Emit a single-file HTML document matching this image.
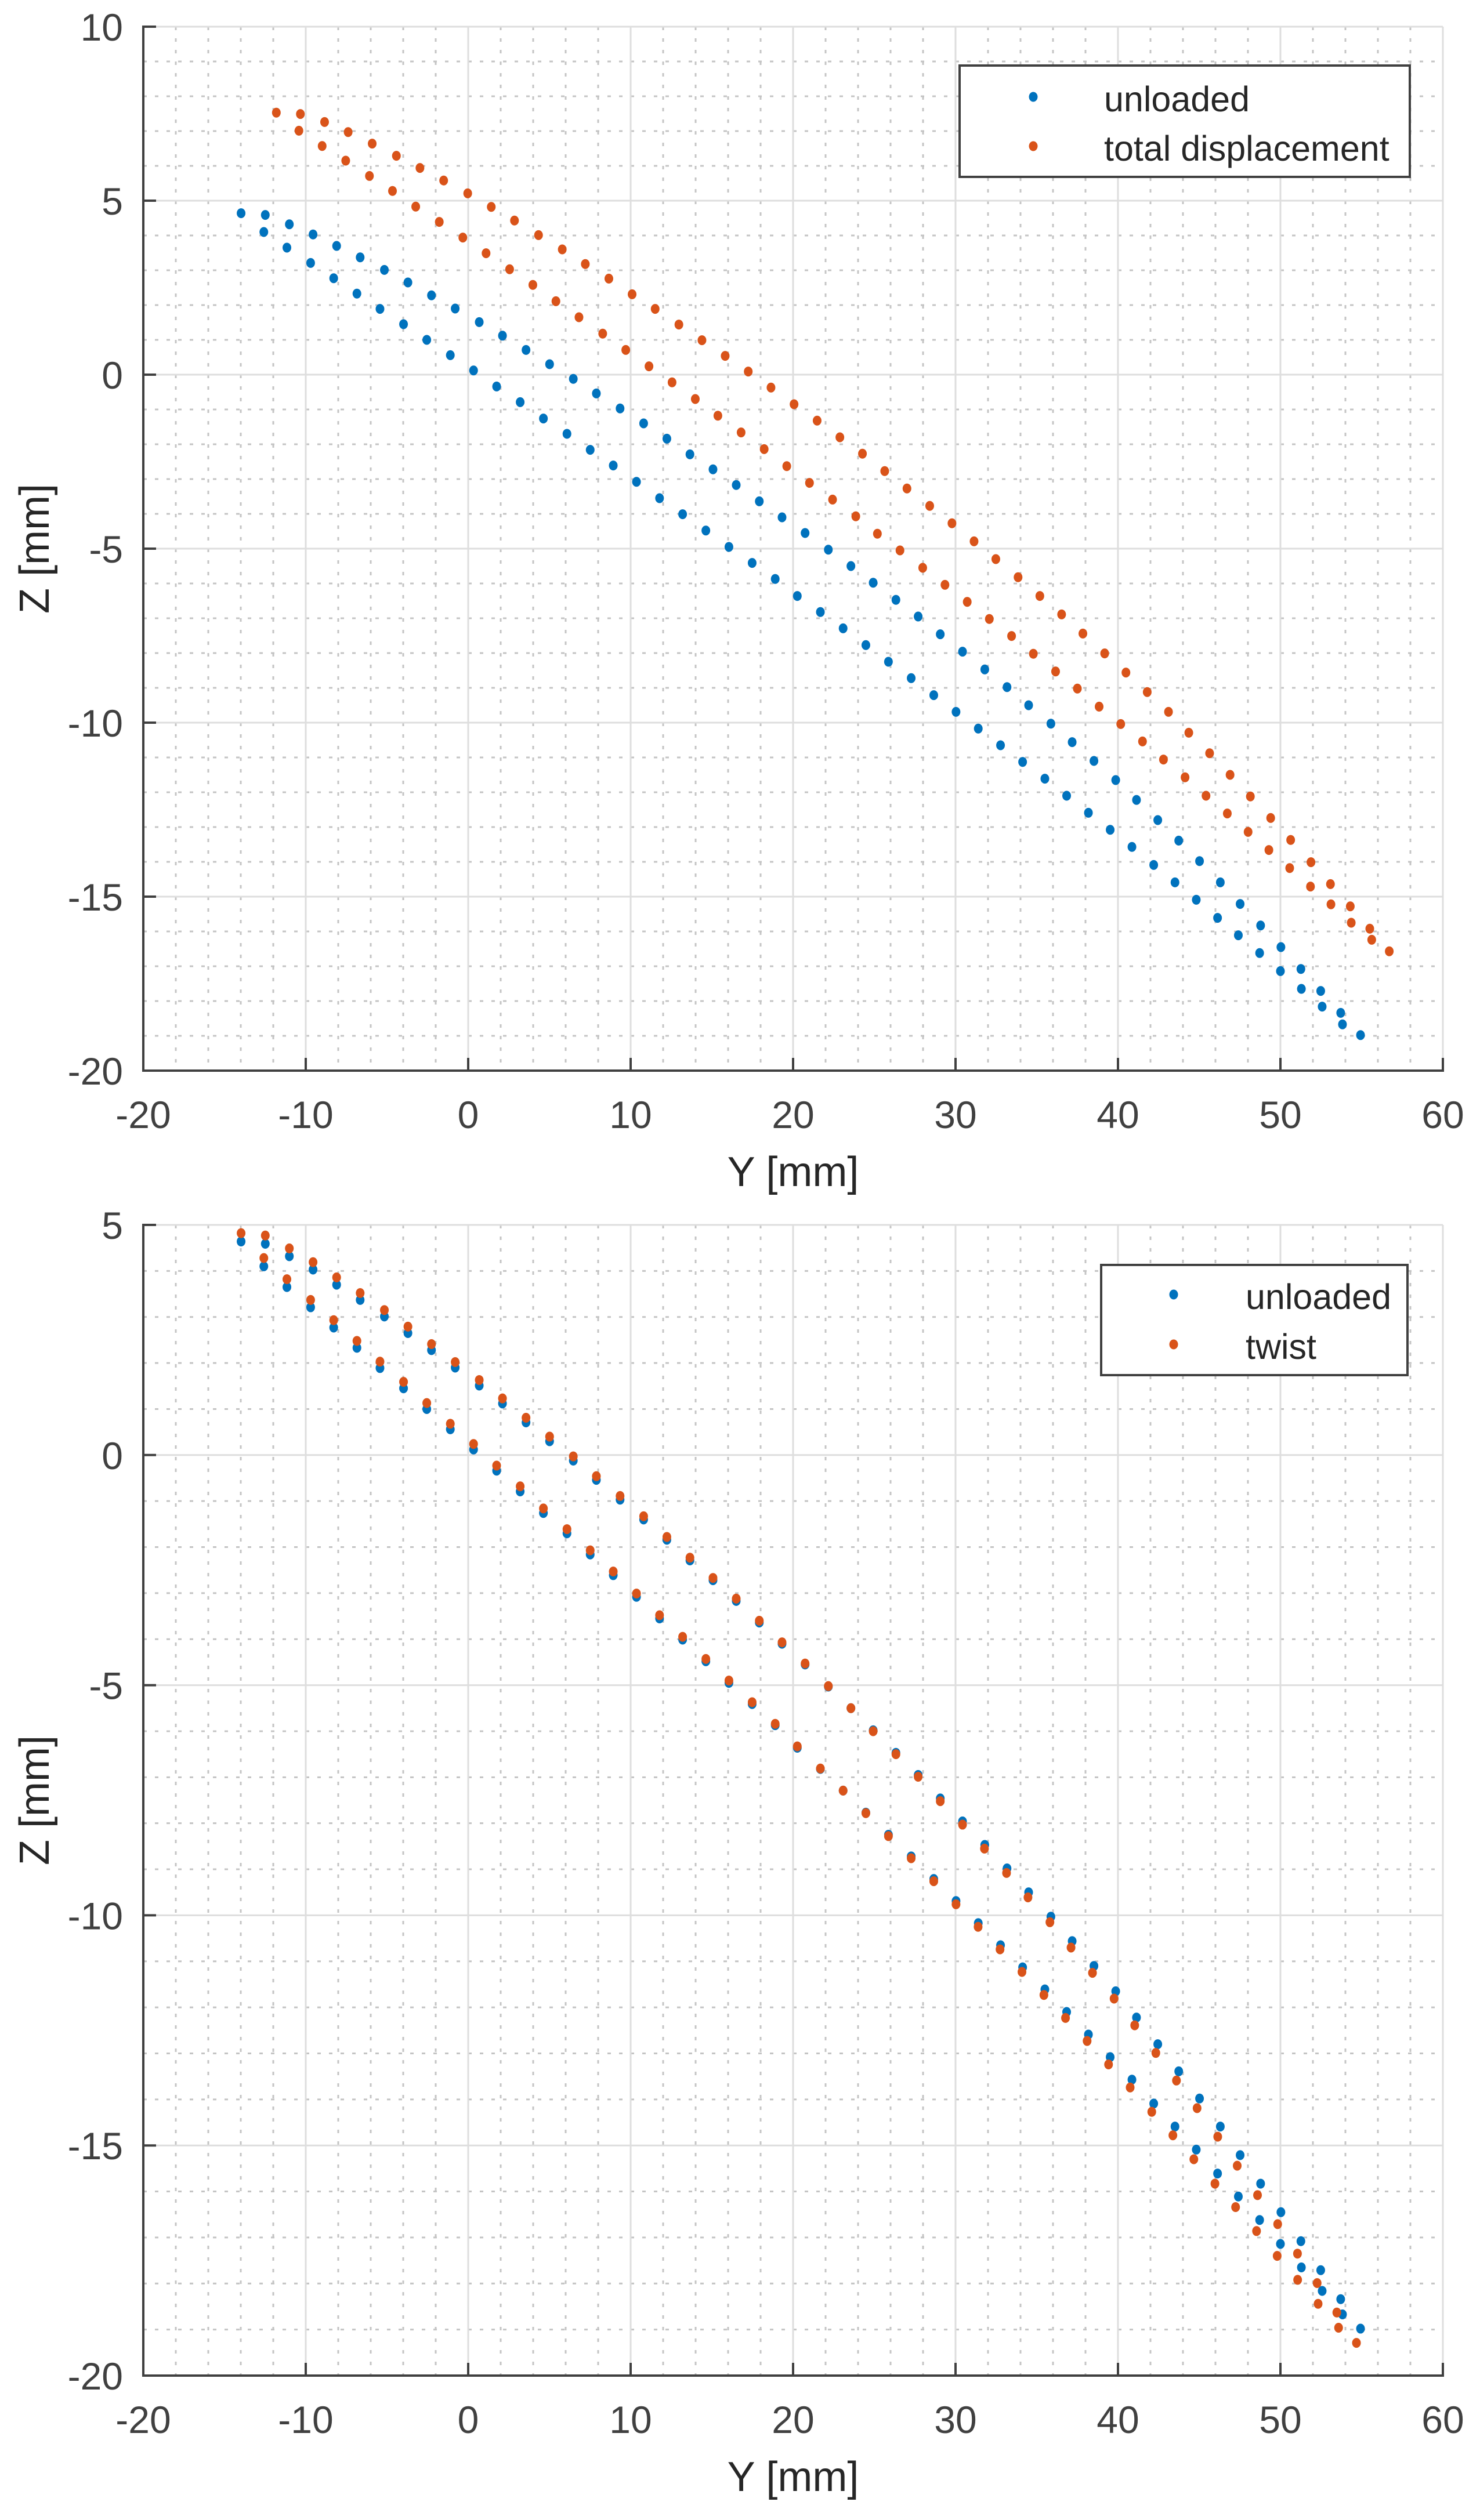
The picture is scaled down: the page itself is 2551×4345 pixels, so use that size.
<!DOCTYPE html>
<html>
<head>
<meta charset="utf-8">
<style>
  html,body{margin:0;padding:0;background:#fff;}
  svg{display:block;}
  text{font-family:"Liberation Sans",Arial,sans-serif;}
</style>
</head>
<body>
<svg id="fig" xmlns="http://www.w3.org/2000/svg" width="2551" height="4345" viewBox="0 0 2551 4345">
  <rect x="0" y="0" width="2551" height="4345" fill="#ffffff"/>
  <g id="top-plot"></g>
  <g id="bottom-plot"></g>
</svg>
<script>
// ---- data (Y [mm], Z [mm]) ----
const xTicks = [-20,-10,0,10,20,30,40,50,60];
const topYTicks = [-20,-15,-10,-5,0,5,10];
const bottomYTicks = [-20,-15,-10,-5,0,5];

const unloadedY = [-13.98,-12.49,-11.01,-9.55,-8.10,-6.65,-5.16,-3.71,-2.26,-0.80,0.68,2.11,3.56,5.01,6.47,7.89,9.35,10.80,12.23,13.65,15.07,16.50,17.92,19.32,20.74,22.17,23.56,24.93,26.33,27.70,29.06,30.43,31.80,33.17,34.50,35.87,37.18,38.52,39.86,41.14,42.45,43.74,45.02,46.30,47.52,48.78,50.03,51.26,52.48,53.71,54.93,
 -12.58,-11.16,-9.70,-8.28,-6.85,-5.43,-3.98,-2.55,-1.10,0.33,1.75,3.20,4.63,6.08,7.51,8.93,10.36,11.78,13.20,14.63,16.05,17.48,18.90,20.26,21.68,23.08,24.48,25.87,27.27,28.66,30.03,31.40,32.77,34.13,35.50,36.84,38.18,39.52,40.86,42.20,43.51,44.82,46.13,47.41,48.72,50.00,51.29,52.57,53.82];
const unloadedZ = [4.64,4.59,4.32,4.03,3.70,3.37,3.01,2.65,2.28,1.90,1.51,1.12,0.71,0.30,-0.12,-0.54,-0.97,-1.40,-1.84,-2.29,-2.72,-3.17,-3.64,-4.10,-4.55,-5.03,-5.50,-5.98,-6.47,-6.95,-7.46,-7.96,-8.47,-8.98,-9.50,-10.03,-10.56,-11.10,-11.65,-12.22,-12.80,-13.39,-13.98,-14.59,-15.21,-15.83,-16.45,-17.08,-17.71,-18.34,-18.98,
 4.10,3.65,3.21,2.77,2.33,1.89,1.45,1.00,0.56,0.12,-0.34,-0.79,-1.26,-1.70,-2.16,-2.61,-3.08,-3.55,-4.01,-4.48,-4.95,-5.41,-5.87,-6.36,-6.82,-7.29,-7.77,-8.25,-8.72,-9.21,-9.69,-10.17,-10.65,-11.13,-11.61,-12.10,-12.59,-13.08,-13.57,-14.09,-14.59,-15.09,-15.61,-16.11,-16.62,-17.14,-17.65,-18.16,-18.67];

const totalY = [-11.81,-10.33,-8.84,-7.39,-5.91,-4.42,-2.97,-1.51,-0.03,1.42,2.85,4.33,5.79,7.21,8.66,10.09,11.51,12.97,14.39,15.82,17.24,18.64,20.06,21.48,22.88,24.27,25.64,27.01,28.41,29.78,31.14,32.48,33.85,35.19,36.53,37.84,39.18,40.49,41.80,43.11,44.36,45.64,46.90,48.15,49.40,50.63,51.88,53.08,54.30,55.50,56.70,
 -10.42,-8.99,-7.54,-6.08,-4.66,-3.23,-1.78,-0.33,1.10,2.55,3.98,5.40,6.82,8.28,9.70,11.13,12.55,13.98,15.37,16.80,18.22,19.61,21.01,22.43,23.86,25.19,26.58,27.98,29.35,30.72,32.08,33.45,34.79,36.16,37.50,38.84,40.17,41.51,42.80,44.13,45.42,46.73,48.01,49.29,50.57,51.85,53.11,54.36,55.62];
const totalZ = [7.53,7.49,7.26,6.97,6.64,6.29,5.94,5.58,5.21,4.82,4.43,4.01,3.60,3.18,2.76,2.31,1.89,1.44,0.99,0.54,0.09,-0.37,-0.85,-1.32,-1.80,-2.27,-2.77,-3.27,-3.77,-4.27,-4.79,-5.30,-5.82,-6.36,-6.89,-7.44,-8.01,-8.56,-9.12,-9.69,-10.29,-10.88,-11.50,-12.12,-12.74,-13.37,-14.01,-14.64,-15.28,-15.92,-16.57,
 7.01,6.57,6.15,5.71,5.28,4.83,4.39,3.94,3.49,3.03,2.58,2.11,1.65,1.18,0.71,0.24,-0.22,-0.70,-1.18,-1.66,-2.14,-2.63,-3.11,-3.59,-4.07,-4.57,-5.05,-5.55,-6.04,-6.53,-7.02,-7.51,-8.02,-8.53,-9.02,-9.54,-10.04,-10.54,-11.06,-11.57,-12.10,-12.61,-13.14,-13.66,-14.18,-14.71,-15.22,-15.75,-16.24];

const twistY = [-13.98,-12.49,-11.01,-9.55,-8.10,-6.65,-5.16,-3.71,-2.26,-0.80,0.68,2.11,3.56,5.01,6.47,7.89,9.35,10.80,12.23,13.65,15.07,16.50,17.92,19.32,20.74,22.17,23.56,24.93,26.33,27.70,29.06,30.43,31.78,33.14,34.46,35.81,37.11,38.43,39.76,41.03,42.33,43.60,44.87,46.14,47.34,48.59,49.83,51.05,52.26,53.47,54.68,
 -12.58,-11.16,-9.70,-8.28,-6.85,-5.43,-3.98,-2.55,-1.10,0.33,1.75,3.20,4.63,6.08,7.51,8.93,10.36,11.78,13.20,14.63,16.05,17.48,18.90,20.26,21.68,23.08,24.48,25.87,27.27,28.66,30.03,31.39,32.74,34.09,35.44,36.77,38.10,39.42,40.75,42.08,43.38,44.67,45.97,47.24,48.53,49.80,51.06,52.32,53.58];
const twistZ = [4.82,4.77,4.49,4.19,3.86,3.52,3.15,2.79,2.41,2.02,1.63,1.23,0.81,0.40,-0.03,-0.46,-0.89,-1.33,-1.78,-2.23,-2.67,-3.12,-3.60,-4.07,-4.53,-5.02,-5.50,-6.00,-6.50,-6.99,-7.52,-8.03,-8.55,-9.08,-9.61,-10.15,-10.70,-11.25,-11.81,-12.39,-12.99,-13.59,-14.19,-14.81,-15.44,-16.08,-16.71,-17.35,-17.99,-18.63,-19.29,
 4.28,3.82,3.37,2.93,2.48,2.03,1.59,1.13,0.68,0.24,-0.23,-0.68,-1.16,-1.61,-2.07,-2.53,-3.01,-3.48,-3.95,-4.43,-4.90,-5.37,-5.84,-6.33,-6.81,-7.29,-7.78,-8.28,-8.76,-9.26,-9.76,-10.25,-10.74,-11.23,-11.73,-12.23,-12.73,-13.24,-13.74,-14.27,-14.78,-15.30,-15.83,-16.34,-16.86,-17.40,-17.92,-18.44,-18.96];

const NS = "http://www.w3.org/2000/svg";
function mk(tag, attrs, parent){
  const e = document.createElementNS(NS, tag);
  for (const k in attrs) e.setAttribute(k, attrs[k]);
  parent.appendChild(e);
  return e;
}

function drawPlot(g, cfg){
  const L = 247, R = 2487;
  const T = cfg.top, B = cfg.bottom;
  const xMin = -20, xMax = 60, yMin = cfg.yMin, yMax = cfg.yMax;
  const sx = v => L + (v - xMin) / (xMax - xMin) * (R - L);
  const sy = v => B - (v - yMin) / (yMax - yMin) * (B - T);

  // minor grid
  const minor = mk('g', {}, g);
  
  
  for (let v = xMin; v <= xMax; v += 2) {
    if (v % 10 === 0) continue;
    mk('line', {x1:sx(v), x2:sx(v), y1:T, y2:B, stroke:'#c4c4c4', 'stroke-width':3, 'stroke-dasharray':'6 14'}, minor);
  }
  for (let v = yMin; v <= yMax; v += 1) {
    if (v % 5 === 0) continue;
    mk('line', {x1:L, x2:R, y1:sy(v), y2:sy(v), stroke:'#c4c4c4', 'stroke-width':3, 'stroke-dasharray':'6 14'}, minor);
  }
  // major grid
  const major = mk('g', {}, g);
  
  
  xTicks.forEach(v => mk('line', {x1:sx(v), x2:sx(v), y1:T, y2:B, stroke:'#dedede', 'stroke-width':3}, major));
  cfg.yTicks.forEach(v => mk('line', {x1:L, x2:R, y1:sy(v), y2:sy(v), stroke:'#dedede', 'stroke-width':3}, major));

  // series
  cfg.series.forEach(s => {
    const sg = mk('g', {fill:s.color}, g);
    
    
    for (let i = 0; i < s.ys.length; i++) {
      const c = mk('ellipse', {cx:sx(s.ys[i]), cy:sy(s.zs[i]), rx:7.5, ry:8.5}, sg);
      
      
    }
  });

  // axes
  const ax = mk('g', {stroke:'#404040', 'stroke-width':4, fill:'none'}, g);
  
  
  mk('line', {x1:L, x2:R+2, y1:B, y2:B}, ax);
  mk('line', {x1:L, x2:L, y1:T-2, y2:B+2}, ax);
  xTicks.forEach(v => mk('line', {x1:sx(v), x2:sx(v), y1:B, y2:B-22}, ax));
  cfg.yTicks.forEach(v => mk('line', {x1:L, x2:L+22, y1:sy(v), y2:sy(v)}, ax));

  // tick labels
  const tl = mk('g', {fill:'#404040', 'font-size':66}, g);
  
  
  xTicks.forEach(v => {
    const t = mk('text', {x:sx(v), y:B+99, 'text-anchor':'middle'}, tl);
    t.textContent = String(v);
    
    
  });
  cfg.yTicks.forEach(v => {
    const t = mk('text', {x:L-35, y:sy(v)+24, 'text-anchor':'end'}, tl);
    t.textContent = String(v);
    
    
  });

  // axis titles
  const xt = mk('text', {x:(L+R)/2, y:B+199, 'text-anchor':'middle', 'font-size':72, fill:'#262626'}, g);
  xt.textContent = 'Y [mm]';
  
  
  const cy = (T+B)/2;
  const yt = mk('text', {x:0, y:0, 'text-anchor':'middle', 'font-size':72, fill:'#262626', transform:'translate(84,'+cy+') rotate(-90)'}, g);
  yt.textContent = 'Z [mm]';
  
  

  // legend
  const lg = mk('g', {}, g);
  
  
  const lc = cfg.legend;
  mk('rect', {x:lc.x1, y:lc.y1, width:lc.x2-lc.x1, height:lc.y2-lc.y1, fill:'#ffffff', stroke:'#404040', 'stroke-width':4}, lg);
  cfg.series.forEach((s, i) => {
    const en = mk('g', {}, lg);
    
    
    mk('ellipse', {cx:lc.mx, cy:lc.my[i], rx:7.5, ry:8.5, fill:s.color}, en);
    const t = mk('text', {x:lc.tx, y:lc.my[i]+25, 'font-size':61, fill:'#262626'}, en);
    t.textContent = s.label;
  });
}

drawPlot(document.getElementById('top-plot'), {
  top:46, bottom:1846, yMin:-20, yMax:10, yTicks:topYTicks,
  series:[
    {name:'unloaded-series', label:'unloaded', color:'#0072BD', ys:unloadedY, zs:unloadedZ},
    {name:'total-displacement-series', label:'total displacement', color:'#D95319', ys:totalY, zs:totalZ}
  ],
  legend:{x1:1654, y1:113, x2:2430, y2:305, mx:1781, my:[167,252], tx:1903}
});
drawPlot(document.getElementById('bottom-plot'), {
  top:2112, bottom:4096, yMin:-20, yMax:5, yTicks:bottomYTicks,
  series:[
    {name:'unloaded-series', label:'unloaded', color:'#0072BD', ys:unloadedY, zs:unloadedZ},
    {name:'twist-series', label:'twist', color:'#D95319', ys:twistY, zs:twistZ}
  ],
  legend:{x1:1898, y1:2181, x2:2426, y2:2371, mx:2023, my:[2232,2318], tx:2147}
});
</script>
</body>
</html>
